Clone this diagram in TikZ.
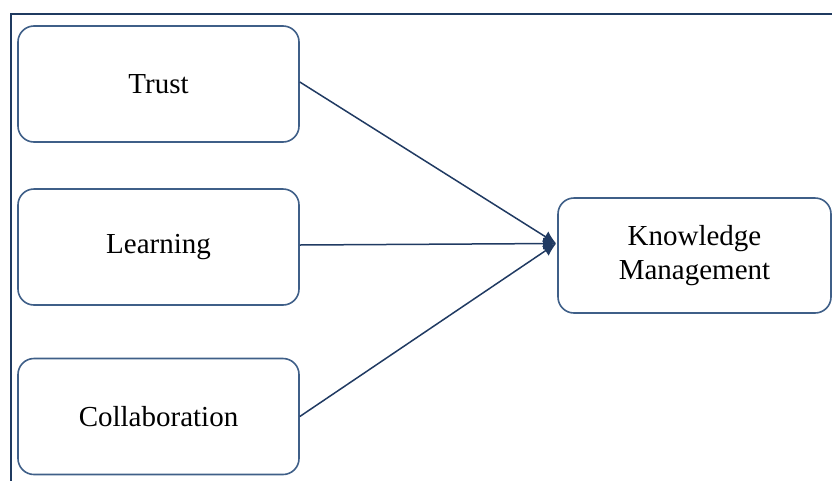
\documentclass[tikz,border=0pt]{standalone}
\usepackage{fontspec}
\setmainfont{Liberation Serif}
\usetikzlibrary{arrows.meta,positioning,calc}
\definecolor{frameblue}{HTML}{1F3A60}
\definecolor{boxblue}{HTML}{3F5F88}
\definecolor{arrowblue}{HTML}{203A62}

\begin{document}
\begin{tikzpicture}[x=1pt,y=-1pt,
          factor/.style={draw=boxblue, line width=1.6pt, rounded corners=16pt,
            minimum width=281pt, minimum height=116pt, align=center,
            font=\fontsize{29}{34}\selectfont},
          link/.style={arrowblue, line width=1.5pt, -{Latex[length=13pt,width=12pt]}}
        ]
          % Rahmen
          \clip (0,0) rectangle (832,480);
          \draw[frameblue, line width=2pt] (11,14) rectangle (860,500);

          % Faktoren
          \node[factor] (trust) at (158.5,84) {Trust};
          \node[factor] (learning) at (158.5,247) {Learning};
          \node[factor] (collab) at (158.5,416.5) {Collaboration};

          % Ziel
          \node[factor, minimum width=273pt, minimum height=115pt] (km) at (694.5,255.5)
            {Knowledge\\Management};
          \coordinate (hub) at ($(km.west)+(-1,-12)$);

          % Pfeile
          \draw[link] ($(trust.east)+(0,-2)$) -- (hub);
          \draw[link] ($(learning.east)+(0,-2)$) -- (hub);
          \draw[link] (collab.east) -- (hub);
        \end{tikzpicture}
\end{document}
